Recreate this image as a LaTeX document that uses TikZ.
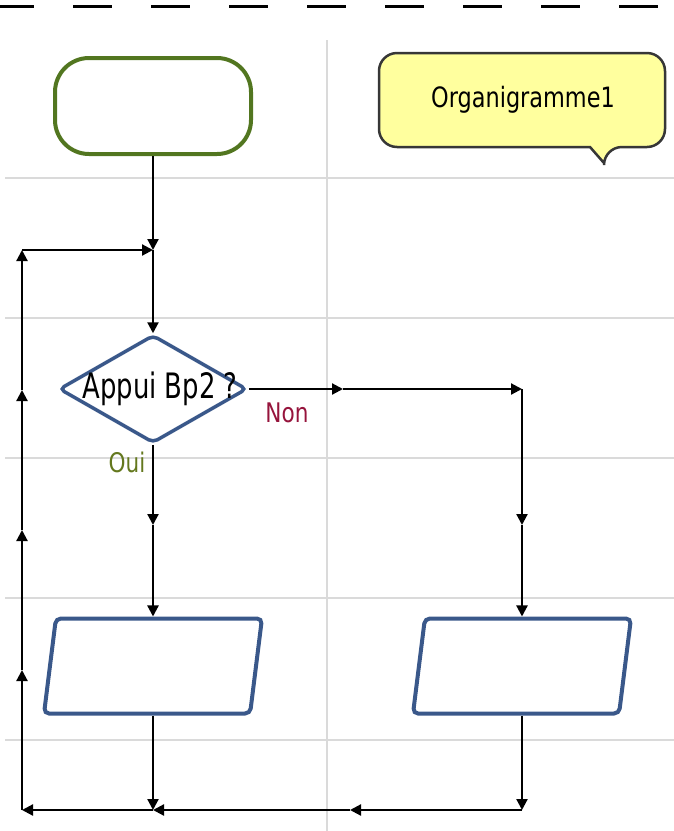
\documentclass[tikz,border=0pt]{standalone}
\usepackage{fontspec}
\newfontfamily\labelfont[FakeStretch=0.8]{DejaVu Sans}
\newfontfamily\testfont[FakeStretch=0.74]{DejaVu Sans}
\usetikzlibrary{shapes.geometric,arrows.meta}
\definecolor{gridgray}{RGB}{218,218,218}
\definecolor{startgreen}{RGB}{82,118,32}
\definecolor{notefill}{RGB}{255,255,158}
\definecolor{notedark}{RGB}{55,55,55}
\definecolor{flowblue}{RGB}{58,88,138}
\definecolor{nonred}{RGB}{150,20,60}
\definecolor{ouigreen}{RGB}{100,120,30}

\begin{document}
\begin{tikzpicture}[x=1pt,y=-1pt,
   gridline/.style={draw=gridgray,line width=2pt},
   startbox/.style={draw=startgreen,line width=4pt,rounded corners=34pt,
      minimum width=196pt,minimum height=96pt},
   notebox/.style={minimum width=286pt,minimum height=94pt,
      font=\labelfont\fontsize{28}{31}\selectfont},
   decision/.style={diamond,draw=flowblue,line width=3.5pt,rounded corners=5pt,
      minimum width=188pt,minimum height=108pt,inner sep=0pt},
   iobox/.style={trapezium,trapezium left angle=86.5,trapezium right angle=93.5,
      trapezium stretches=true,draw=flowblue,line width=4pt,rounded corners=5pt,
      minimum width=218pt,minimum height=95pt},
   conn/.style={line width=2.2pt,-{Triangle[length=11pt,width=11pt]}},
   branch/.style={font=\labelfont\fontsize{27}{30}\selectfont}]
\useasboundingbox (0,0) rectangle (674,831);

\draw[line width=3pt,dash pattern=on 39pt off 39pt,dash phase=5pt] (0,6) -- (674,6);
\foreach \y in {178,318,458,598,740}
   \draw[gridline] (5,\y) -- (674,\y);
\draw[gridline] (327,40) -- (327,831);

\draw[fill=notefill,draw=notedark,line width=2.5pt,rounded corners=18pt]
   (379,100) -- (379,53) -- (665,53) -- (665,147) -- (604,147)
   [sharp corners] -- (604,163) -- (590,147)
   [rounded corners=18pt] -- (379,147) -- cycle;
\node[notebox] (note) at (523,100) {Organigramme1};

\node[startbox] (start) at (153,106) {};
\node[decision,label={[font=\testfont\fontsize{35}{38}\selectfont,xshift=7pt]center:Appui Bp2 ?}]
   (dec) at (153,389) {};
\node[iobox] (lio) at (153,666) {};
\node[iobox] (rio) at (522,666) {};

\node[branch,text=nonred] (non) at (287,413) {Non};
\node[branch,text=ouigreen] (oui) at (127,462) {Oui};

\coordinate (loopin) at (153,250);
\coordinate (loopul) at (22,250);
\coordinate (loopbl) at (22,810);
\coordinate (botmid) at (153,810);
\coordinate (botright) at (522,810);
\coordinate (nonturn) at (522,389);
\coordinate (nonmid) at (343,389);
\coordinate (rmid) at (522,525);
\coordinate (lmid) at (153,525);
\coordinate (bmid) at (350,810);
\coordinate (up1) at (22,670);
\coordinate (up2) at (22,530);
\coordinate (up3) at (22,390);

\draw[conn] (start.south) -- (loopin);
\draw[conn] (loopin) -- (dec.north);
\draw[conn] (dec.east) -- (nonmid);
\draw[conn] (nonmid) -- (nonturn);
\draw[conn] (nonturn) -- (rmid);
\draw[conn] (rmid) -- (rio.north);
\draw[conn] (dec.south) -- (lmid);
\draw[conn] (lmid) -- (lio.north);
\draw[conn] (lio.south) -- (botmid);
\draw[conn] (rio.south) -- (botright);
\draw[conn] (botright) -- (bmid);
\draw[conn] (bmid) -- (botmid);
\draw[conn] (botmid) -- (loopbl);
\draw[conn] (loopbl) -- (up1);
\draw[conn] (up1) -- (up2);
\draw[conn] (up2) -- (up3);
\draw[conn] (up3) -- (loopul);
\draw[conn] (loopul) -- (loopin);
\end{tikzpicture}
\end{document}
